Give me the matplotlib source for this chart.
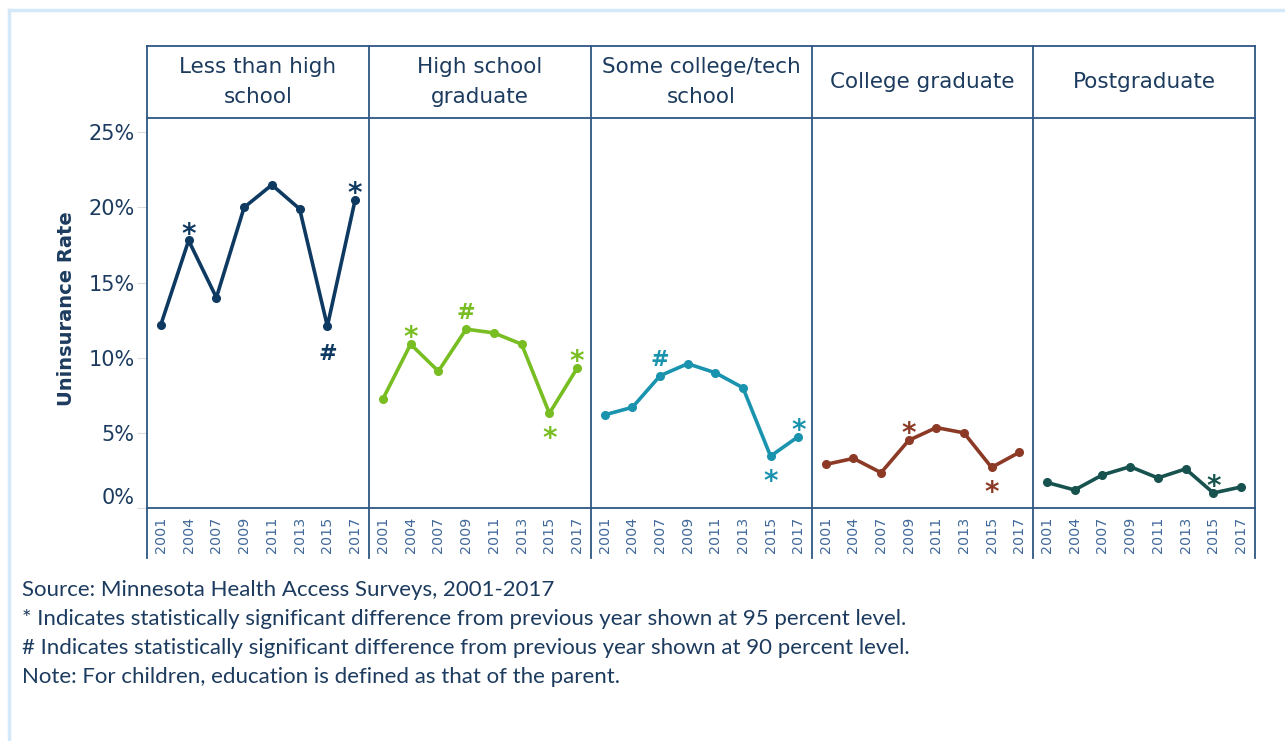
import matplotlib
matplotlib.use("Agg")
import matplotlib.pyplot as plt
from matplotlib.lines import Line2D
from matplotlib.ticker import FuncFormatter

years = ["2001", "2004", "2007", "2009", "2011", "2013", "2015", "2017"]
groups = ["Less than high\nschool", "High school\ngraduate", "Some college/tech\nschool",
          "College graduate", "Postgraduate"]

less_than_hs = [12.2, 17.8, 14.0, 20.0, 21.5, 19.9, 12.1, 20.5]
hs_grad = [7.25, 10.9, 9.1, 11.9, 11.65, 10.9, 6.3, 9.3]
some_college = [6.2, 6.7, 8.8, 9.6, 9.0, 8.0, 3.45, 4.75]
college_grad = [2.9, 3.3, 2.35, 4.5, 5.35, 5.0, 2.7, 3.7]
postgrad = [1.7, 1.2, 2.2, 2.75, 2.0, 2.6, 1.0, 1.4]

# significance marks: (year index, symbol, 1 = above / -1 = below)
marks_less = [(1, "*", 1), (6, "#", -1), (7, "*", 1)]
marks_hs = [(1, "*", 1), (3, "#", 1), (6, "*", -1), (7, "*", 1)]
marks_some = [(2, "#", 1), (6, "*", -1), (7, "*", 1)]
marks_college = [(3, "*", 1), (6, "*", -1)]
marks_post = [(6, "*", 1)]

series = [less_than_hs, hs_grad, some_college, college_grad, postgrad]
marks = [marks_less, marks_hs, marks_some, marks_college, marks_post]
colors = ["#0e3a62", "#78bd22", "#1a93ae", "#8c3a26", "#17524f"]

navy = "#1c3b5e"
frame = "#2e5783"
W, H = 1285, 741

fig = plt.figure(figsize=(12.85, 7.41), dpi=100)

# outer light frame
fig.add_artist(Line2D([9 / W, 1.0], [1 - 10 / H, 1 - 10 / H], color="#d4e8f8", lw=2.5))
fig.add_artist(Line2D([9 / W, 9 / W], [1 - 10 / H, 0], color="#d4e8f8", lw=2.5))

edges = [147, 369, 591, 812, 1033, 1255]
top_hdr, plot_top, plot_bot, tick_bot = 46, 118, 508, 558

# baseline offsets (points) and sizes for the mark glyphs
off = {("*", 1): -1.5, ("*", -1): -24.5, ("#", 1): 7, ("#", -1): -24.5}
msize = {"*": 20, "#": 16}

for k in range(5):
    x0, x1 = edges[k], edges[k + 1]
    ax = fig.add_axes([x0 / W, 1 - plot_bot / H, (x1 - x0) / W, (plot_bot - plot_top) / H])
    xs = list(range(len(years)))
    ax.plot(xs, series[k], color=colors[k], lw=2.6, marker="o", ms=5.5, solid_joinstyle="round")
    for i, sym, d in marks[k]:
        ax.annotate(sym, (i, series[k][i]), xytext=(0, off[(sym, d)]), textcoords="offset points",
                    ha="center", va="baseline", color=colors[k], fontsize=msize[sym],
                    fontweight="bold")
    ax.set_xlim(-0.5, 7.5)
    ax.set_ylim(0, 25.95)
    ax.set_xticks(xs)
    ax.set_xticklabels(years, rotation=90, fontsize=10.3, color="#41699a")
    ax.tick_params(axis="x", length=0, pad=6)
    for s in ax.spines.values():
        s.set_visible(False)
    if k == 0:
        ax.set_yticks([0, 5, 10, 15, 20, 25])
        ax.yaxis.set_major_formatter(FuncFormatter(lambda v, p: f"{v:.0f}%"))
        ax.tick_params(axis="y", length=7, color="#dcdcdc", labelsize=15, labelcolor=navy, pad=2)
        ax.get_yticklabels()[0].set_va("bottom")
        ax.set_ylabel("Uninsurance Rate", fontsize=14, fontweight="bold", color=navy)
        ax.yaxis.set_label_coords(-0.32, 0.51)
    else:
        ax.set_yticks([])
    fig.text((x0 + x1) / 2 / W, 1 - (top_hdr + plot_top) / 2 / H, groups[k], ha="center",
             va="center", fontsize=15.5, color=navy, linespacing=1.65)

# panel frame lines
for x in edges:
    fig.add_artist(Line2D([x / W, x / W], [1 - top_hdr / H, 1 - tick_bot / H], color=frame, lw=1.3))
for y in [top_hdr, plot_top, plot_bot]:
    fig.add_artist(Line2D([edges[0] / W, edges[-1] / W], [1 - y / H, 1 - y / H], color=frame, lw=1.3))

notes = ["Source: Minnesota Health Access Surveys, 2001-2017",
         "* Indicates statistically significant difference from previous year shown at 95 percent level.",
         "# Indicates statistically significant difference from previous year shown at 90 percent level.",
         "Note: For children, education is defined as that of the parent."]
for j, t in enumerate(notes):
    fig.text(22 / W, 1 - (590 + 29 * j) / H, t, ha="left", va="center", fontsize=16,
             color=navy, family="Lato")

fig.savefig("out.png", dpi=100)
